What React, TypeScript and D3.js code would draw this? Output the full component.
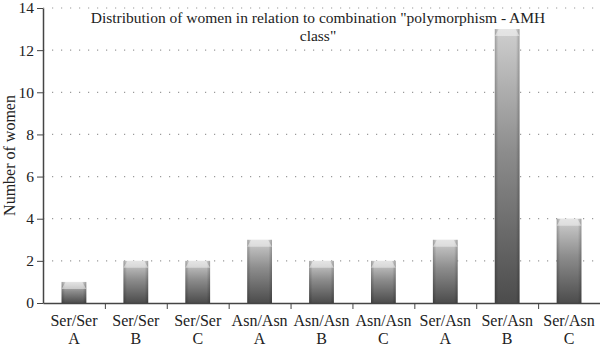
import React, { useRef, useEffect } from 'react';
import * as d3 from 'd3';

const genotypes = ['Ser/Ser', 'Ser/Ser', 'Ser/Ser', 'Asn/Asn', 'Asn/Asn', 'Asn/Asn', 'Ser/Asn', 'Ser/Asn', 'Ser/Asn'];
const amhClasses = ['A', 'B', 'C', 'A', 'B', 'C', 'A', 'B', 'C'];
const counts = [1, 2, 2, 3, 2, 2, 3, 13, 4];
const yTicks = [0, 2, 4, 6, 8, 10, 12, 14];

const App = () => {
    const svgRef = useRef<SVGSVGElement>(null);

    useEffect(() => {
        const width = 600;
        const height = 351;
        const margin = { top: 8, right: 0, bottom: 48, left: 43 };
        const innerW = width - margin.left - margin.right;
        const innerH = height - margin.top - margin.bottom;
        const font = '"Liberation Serif", "DejaVu Serif", serif';

        const root = d3.select(svgRef.current);
        root.selectAll('*').remove();
        root.attr('width', width).attr('height', height);

        const defs = root.append('defs');
        const vg = defs.append('linearGradient')
            .attr('id', 'barV').attr('x1', 0).attr('y1', 0).attr('x2', 0).attr('y2', 1);
        vg.append('stop').attr('offset', '0%').attr('stop-color', '#cfcfcf');
        vg.append('stop').attr('offset', '45%').attr('stop-color', '#8c8c8c');
        vg.append('stop').attr('offset', '100%').attr('stop-color', '#4c4c4c');

        const hg = defs.append('linearGradient')
            .attr('id', 'barH').attr('x1', 0).attr('y1', 0).attr('x2', 1).attr('y2', 0);
        hg.append('stop').attr('offset', '0%').attr('stop-color', '#000').attr('stop-opacity', 0.22);
        hg.append('stop').attr('offset', '14%').attr('stop-color', '#000').attr('stop-opacity', 0);
        hg.append('stop').attr('offset', '86%').attr('stop-color', '#000').attr('stop-opacity', 0);
        hg.append('stop').attr('offset', '100%').attr('stop-color', '#000').attr('stop-opacity', 0.22);

        const svg = root.append('g').attr('transform', `translate(${margin.left},${margin.top})`);

        const x = d3.scaleBand<number>()
            .domain(counts.map((_, i) => i))
            .range([0, innerW])
            .paddingInner(0.6)
            .paddingOuter(0.3);

        const y = d3.scaleLinear().domain([0, 14]).range([innerH, 0]);

        // dotted grid
        svg.selectAll('.grid')
            .data(yTicks.filter(t => t > 0))
            .enter()
            .append('line')
            .attr('x1', 0)
            .attr('x2', innerW)
            .attr('y1', d => y(d))
            .attr('y2', d => y(d))
            .attr('stroke', '#9a9a9a')
            .attr('stroke-width', 1.2)
            .attr('stroke-dasharray', '1.2,7.8');

        svg.append('text')
            .attr('x', 275)
            .attr('y', 15)
            .attr('text-anchor', 'middle')
            .attr('font-family', font)
            .attr('font-size', 15.5)
            .attr('fill', '#222')
            .text('Distribution of women in relation to combination "polymorphism - AMH');
        svg.append('text')
            .attr('x', 275)
            .attr('y', 33)
            .attr('text-anchor', 'middle')
            .attr('font-family', font)
            .attr('font-size', 15.5)
            .attr('fill', '#222')
            .text('class"');

        const bw = x.bandwidth();
        const bars = svg.selectAll('.bar')
            .data(counts)
            .enter()
            .append('g')
            .attr('class', 'bar');

        bars.append('rect')
            .attr('x', (_, i) => x(i)!)
            .attr('y', d => y(d))
            .attr('width', bw)
            .attr('height', d => innerH - y(d))
            .attr('fill', 'url(#barV)');
        bars.append('rect')
            .attr('x', (_, i) => x(i)!)
            .attr('y', d => y(d))
            .attr('width', bw)
            .attr('height', d => innerH - y(d))
            .attr('fill', 'url(#barH)');
        // bevelled top cap
        bars.append('path')
            .attr('d', (d, i) => {
                const x0 = x(i)!;
                const y0 = y(d);
                return `M${x0},${y0 + 7} L${x0 + 4},${y0} L${x0 + bw - 4},${y0} L${x0 + bw},${y0 + 7} Z`;
            })
            .attr('fill', '#ffffff')
            .attr('opacity', 0.45);

        const yAxis = svg.append('g')
            .call(d3.axisLeft(y).tickValues(yTicks).tickSize(6).tickSizeOuter(0));
        yAxis.select('.domain').attr('stroke', '#444').attr('stroke-width', 1.5);
        yAxis.selectAll('.tick line').attr('stroke', '#444');
        yAxis.selectAll('.tick text')
            .attr('font-family', font)
            .attr('font-size', 15.5)
            .attr('fill', '#222')
            .attr('x', -9);

        const xAxis = svg.append('g')
            .attr('transform', `translate(0,${innerH})`)
            .call(d3.axisBottom(d3.scaleLinear().domain([0, 9]).range([0, innerW]))
                .tickValues(d3.range(1, 10)).tickSize(6).tickFormat(() => '').tickSizeOuter(0));
        xAxis.select('.domain').attr('stroke', '#444').attr('stroke-width', 1.5);
        xAxis.selectAll('.tick line').attr('stroke', '#444');

        const labels = svg.append('g').attr('transform', `translate(0,${innerH})`);
        labels.selectAll('.lab1')
            .data(genotypes)
            .enter()
            .append('text')
            .attr('x', (_, i) => x(i)! + bw / 2)
            .attr('y', 23)
            .attr('text-anchor', 'middle')
            .attr('font-family', font)
            .attr('font-size', 16)
            .attr('fill', '#222')
            .text(d => d);
        labels.selectAll('.lab2')
            .data(amhClasses)
            .enter()
            .append('text')
            .attr('x', (_, i) => x(i)! + bw / 2)
            .attr('y', 41)
            .attr('text-anchor', 'middle')
            .attr('font-family', font)
            .attr('font-size', 16)
            .attr('fill', '#222')
            .text(d => d);

        root.append('text')
            .attr('transform', `translate(15,${margin.top + innerH / 2}) rotate(-90)`)
            .attr('text-anchor', 'middle')
            .attr('font-family', font)
            .attr('font-size', 16)
            .attr('fill', '#222')
            .text('Number of women');
    }, []);

    return <svg ref={svgRef} style={{ position: 'absolute', left: 0, top: 0, display: 'block' }}></svg>;
};

export default App;
